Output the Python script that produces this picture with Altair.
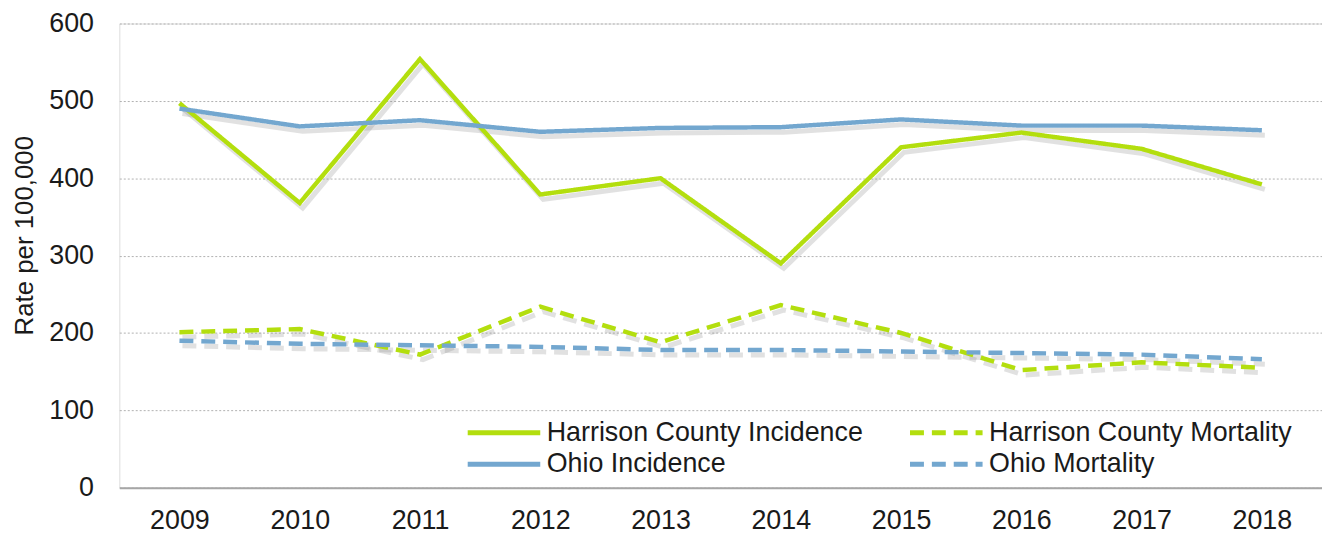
import altair as alt
import pandas as pd

years = ["2009", "2010", "2011", "2012", "2013", "2014", "2015", "2016", "2017", "2018"]
harrison_incidence = [497, 368, 554, 379, 400, 290, 440, 459, 438, 392]
harrison_mortality = [201, 205, 172, 234, 188, 236, 200, 152, 162, 155]
ohio_incidence = [490, 467, 475, 460, 465, 466, 476, 468, 468, 462]
ohio_mortality = [190, 186, 184, 182, 178, 178, 176, 174, 172, 166]

series_names = ["Harrison County Incidence", "Harrison County Mortality",
                "Ohio Incidence", "Ohio Mortality"]
series_values = [harrison_incidence, harrison_mortality, ohio_incidence, ohio_mortality]
series_kind = ["solid", "dashed", "solid", "dashed"]
series_colors = ["#B3DE0E", "#B3DE0E", "#73A7CF", "#73A7CF"]
series_dashes = [[1, 0], [14, 8], [1, 0], [14, 8]]

rows = []
for name, kind, vals in zip(series_names, series_kind, series_values):
    for yr, v in zip(years, vals):
        rows.append({"Year": yr, "Rate": v, "Series": name, "Kind": kind})
df = pd.DataFrame(rows)

FONT = "Liberation Sans"
FS = 27

x_enc = alt.X("Year:O", sort=years,
              scale=alt.Scale(type="point", padding=0.5),
              axis=alt.Axis(title=None, labelAngle=0, ticks=False, tickSize=0,
                            domain=True, domainColor="#a6a6a6", domainWidth=2,
                            grid=False, labelPadding=20, labelFontSize=FS,
                            labelColor="#1a1a1a", labelFont=FONT))
y_enc = alt.Y("Rate:Q",
              scale=alt.Scale(domain=[0, 600], nice=False),
              axis=alt.Axis(values=[0, 100, 200, 300, 400, 500, 600],
                            title="Rate per 100,000", titleFontSize=26,
                            titleFont=FONT, titleFontWeight="normal",
                            titleColor="#1a1a1a", titleAngle=270,
                            titleX=-87, titleY=213, titleAlign="center",
                            titleBaseline="alphabetic",
                            domain=False, ticks=False, tickSize=0,
                            labelPadding=26, labelFontSize=FS,
                            labelColor="#1a1a1a", labelFont=FONT,
                            grid=True, gridColor="#b0b0b0", gridDash=[2, 2],
                            gridWidth=1))

shadow_solid = alt.Chart(df).transform_filter(alt.datum.Kind == "solid").mark_line(
    strokeWidth=5, xOffset=3, yOffset=5, color="#888888", opacity=0.25).encode(
    x=x_enc, y=y_enc, detail="Series:N")

shadow_dashed = alt.Chart(df).transform_filter(alt.datum.Kind == "dashed").mark_line(
    strokeWidth=5, xOffset=3, yOffset=5, color="#888888", opacity=0.25,
    strokeDash=[14, 8]).encode(
    x=x_enc, y=y_enc, detail="Series:N")

leg = alt.Legend(title=None, orient="none", legendX=347, legendY=398, columns=2,
                 direction="horizontal", symbolType="M-1,0H6.3", symbolSize=400,
                 symbolStrokeWidth=5, labelFontSize=FS, labelFont=FONT,
                 labelColor="#1a1a1a", labelOffset=56, columnPadding=36,
                 rowPadding=4, padding=0, labelLimit=500)

lines = alt.Chart(df).mark_line(strokeWidth=4.5).encode(
    x=x_enc, y=y_enc,
    color=alt.Color("Series:N",
                    scale=alt.Scale(domain=series_names, range=series_colors),
                    legend=leg),
    strokeDash=alt.StrokeDash("Series:N",
                              scale=alt.Scale(domain=series_names, range=series_dashes),
                              legend=leg),
)

chart = alt.layer(shadow_solid, shadow_dashed, lines).properties(
    width=1210, height=467,
    autosize=alt.AutoSizeParams(type="none"),
    padding={"left": 112, "top": 14, "right": 0, "bottom": 45},
).configure_view(stroke=None).configure(background="white")

chart.save("out.html", embed_options={"renderer": "svg", "actions": False})
